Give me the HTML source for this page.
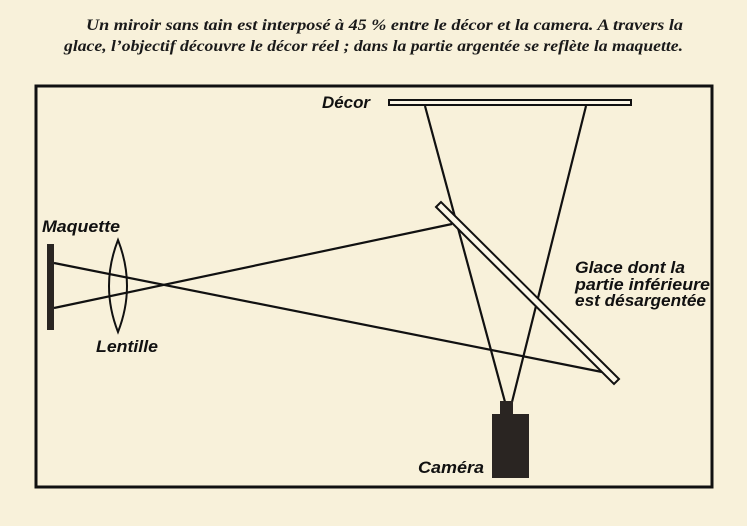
<!DOCTYPE html>
<html><head><meta charset="utf-8"><style>
html,body{margin:0;padding:0;background:#f8f1da;}
svg{display:block}
.cap{font-family:"Liberation Serif",serif;font-style:italic;font-size:16px;fill:#1a1a1a;font-weight:bold}
.lab{font-family:"Liberation Sans",sans-serif;font-style:italic;font-size:17px;fill:#111;font-weight:bold}
</style></head><body>
<svg width="747" height="526" viewBox="0 0 747 526">
<rect width="747" height="526" fill="#f8f1da"/>
<text class="cap" x="86" y="30" textLength="597" lengthAdjust="spacingAndGlyphs">Un miroir sans tain est interposé à 45 % entre le décor et la camera. A travers la</text>
<text class="cap" x="64" y="51" textLength="619" lengthAdjust="spacingAndGlyphs">glace, l’objectif découvre le décor réel ; dans la partie argentée se reflète la maquette.</text>
<rect x="36" y="86" width="676" height="401" fill="none" stroke="#111" stroke-width="3"/>
<rect x="389" y="100" width="242" height="5" fill="#fbf6e6" stroke="#111" stroke-width="2"/>
<text class="lab" x="322" y="108" textLength="48" lengthAdjust="spacingAndGlyphs">Décor</text>
<g stroke="#111" stroke-width="2.2" fill="none">
<line x1="425" y1="106" x2="505" y2="402"/>
<line x1="586" y1="106" x2="512" y2="402"/>
<line x1="54" y1="308" x2="452" y2="224"/>
<line x1="54" y1="263" x2="602" y2="372"/>
<path d="M118 240 Q136 286 118 332 Q100 286 118 240Z" stroke-width="2"/>
</g>
<polygon points="436,207 441,202 619,379 614,384" fill="#fbf6e6" stroke="#111" stroke-width="2"/>
<rect x="47" y="244" width="7" height="86" fill="#2a2522"/>
<rect x="500" y="401" width="13" height="14" fill="#2a2522"/>
<rect x="492" y="414" width="37" height="64" fill="#2a2522"/>
<text class="lab" x="42" y="232" textLength="78" lengthAdjust="spacingAndGlyphs">Maquette</text>
<text class="lab" x="96" y="352" textLength="62" lengthAdjust="spacingAndGlyphs">Lentille</text>
<text class="lab" x="418" y="473" textLength="66" lengthAdjust="spacingAndGlyphs">Caméra</text>
<text class="lab" x="575" y="273" textLength="110" lengthAdjust="spacingAndGlyphs">Glace dont la</text>
<text class="lab" x="575" y="290" textLength="135" lengthAdjust="spacingAndGlyphs">partie inférieure</text>
<text class="lab" x="575" y="306" textLength="131" lengthAdjust="spacingAndGlyphs">est désargentée</text>
</svg>
</body></html>
